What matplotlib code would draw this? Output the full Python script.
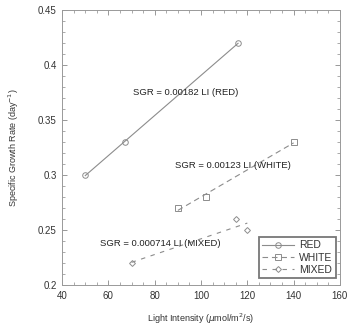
import numpy as np
import matplotlib
matplotlib.use("Agg")
import matplotlib.pyplot as plt
from matplotlib.lines import Line2D
from matplotlib.ticker import MultipleLocator

plt.rcParams['font.family'] = ['Liberation Sans', 'DejaVu Sans']

# light intensity (umol/m^2/s) and specific growth rate (1/day)
red_li = [50, 67, 116]
red_sgr = [0.30, 0.33, 0.42]
white_li = [90, 102, 140]
white_sgr = [0.27, 0.28, 0.33]
mixed_li = [70, 115, 120]
mixed_sgr = [0.22, 0.26, 0.25]

series_names = ['RED', 'WHITE', 'MIXED']
labels = ['SGR = 0.00182 LI (RED)', 'SGR = 0.00123 LI (WHITE)',
          'SGR = 0.000714 LI (MIXED)']
label_pos = [(93.2, 0.3755), (113.6, 0.309), (82.5, 0.238)]

grey = '#8c8c8c'
styles = [('o', '-'), ('s', (0, (5, 3.5))), ('D', (0, (4, 5)))]
msizes = [4, 4, 3]

fig = plt.figure(figsize=(3.49, 3.27), dpi=100)
ax = fig.add_axes([0.178, 0.128, 0.796, 0.841])

handles = []
data = [(red_li, red_sgr), (white_li, white_sgr), (mixed_li, mixed_sgr)]
for (x, y), (mk, ls), ms, name in zip(data, styles, msizes, series_names):
    x = np.array(x, dtype=float)
    y = np.array(y)
    # least squares fit over the data range
    k, b = np.polyfit(x, y, 1)
    xf = np.array([x.min(), x.max()])
    ax.plot(xf, k * xf + b, color=grey, lw=0.8, linestyle=ls)
    ax.plot(x, y, linestyle='none', marker=mk, ms=ms, mfc='none',
            mec=grey, mew=0.7)
    handles.append(Line2D([], [], color=grey, lw=0.8, linestyle=ls,
                          marker=mk, ms=ms, mfc='none', mec=grey, mew=0.7))

for txt, (tx, ty) in zip(labels, label_pos):
    ax.text(tx, ty, txt, fontsize=6.8, color='#222222', ha='center',
            va='center')

ax.set_xlim(40, 160)
ax.set_ylim(0.2, 0.45)
ax.xaxis.set_major_locator(MultipleLocator(20))
ax.xaxis.set_minor_locator(MultipleLocator(5))
ax.yaxis.set_major_locator(MultipleLocator(0.05))
ax.yaxis.set_minor_locator(MultipleLocator(0.01))
ax.set_yticks([0.2, 0.25, 0.3, 0.35, 0.4, 0.45])
ax.set_yticklabels(['0.2', '0.25', '0.3', '0.35', '0.4', '0.45'])
ax.tick_params(which='both', direction='in', top=True, right=True,
               color='#888888', labelsize=7, labelcolor='#333333', pad=4)
ax.tick_params(which='major', length=3.5, width=0.6)
ax.tick_params(which='minor', length=2, width=0.5)
for sp in ax.spines.values():
    sp.set_color('#999999')
    sp.set_linewidth(0.7)

ax.set_xlabel('Light Intensity ($\\mu$mol/m$^2$/s)', fontsize=6.5,
              color='#333333', labelpad=8)
ax.set_ylabel('Specific Growth Rate (day$^{-1}$)', fontsize=6.5,
              color='#333333', labelpad=12)

leg = ax.legend(handles, series_names, loc='lower right', fontsize=7.5,
                frameon=True, fancybox=False, handlelength=3,
                handletextpad=0.5, borderpad=0.35, labelspacing=0.2,
                borderaxespad=0, bbox_to_anchor=(0.985, 0.025))
leg.get_frame().set_edgecolor('#555555')
leg.get_frame().set_linewidth(1.3)
for t in leg.get_texts():
    t.set_color('#333333')

fig.savefig('out.png', dpi=100)
